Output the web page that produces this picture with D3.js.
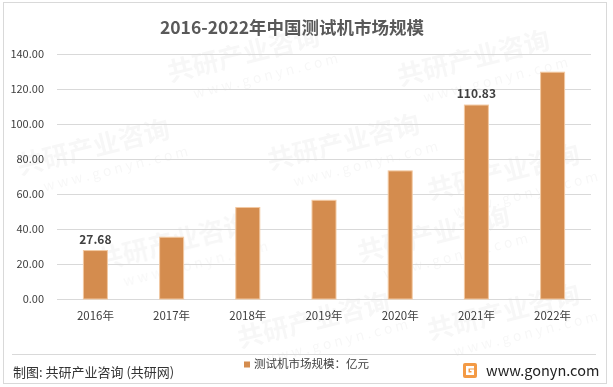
<!DOCTYPE html>
<html>
<head>
<meta charset="utf-8">
<script src="https://cdn.jsdelivr.net/npm/d3@7"></script>
<style>
  body { margin: 0; background: #fff; }
  svg text { font-family: "Noto Sans CJK SC", "Noto Sans", sans-serif; }
</style>
</head>
<body>
<script>
const years = ['2016年', '2017年', '2018年', '2019年', '2020年', '2021年', '2022年']
const values = [27.68, 35.3, 52.3, 56.4, 73.2, 110.83, 129.6]
const labelled = ['2016年', '2021年']
const yTicks = [0, 20, 40, 60, 80, 100, 120, 140]

const W = 613, H = 387
const svg = d3.select('body').append('svg')
    .attr('width', W)
    .attr('height', H)

// outer frame
svg.append('rect')
    .attr('x', 3.5).attr('y', 2.5)
    .attr('width', 603).attr('height', 381)
    .attr('fill', '#fff')
    .attr('stroke', '#d9d9d9')

// faint watermark, kept inside the frame
const wm = svg.append('g').attr('opacity', 0.035)
const spots = [[170, 82], [400, 86], [20, 175], [270, 170], [430, 200], [100, 270], [360, 262], [240, 348], [430, 340]]
spots.forEach(([x, y]) => {
    const g = wm.append('g').attr('transform', `translate(${x},${y}) rotate(-14)`)
    g.append('text').text('共研产业咨询')
        .attr('font-size', 26).attr('font-weight', 'bold').attr('fill', '#000')
    g.append('text').text('w w w . g o n y n . c o m')
        .attr('x', 20).attr('y', 22)
        .attr('font-size', 14).attr('fill', '#000')
})

svg.append('text')
    .attr('x', 292).attr('y', 34)
    .attr('text-anchor', 'middle')
    .attr('font-size', 17.5)
    .attr('font-weight', 'bold')
    .attr('fill', '#595959')
    .text('2016-2022年中国测试机市场规模')

const x = d3.scaleBand().domain(years).range([57.5, 590.5]).paddingInner(0.685).paddingOuter(0.34)
const y = d3.scaleLinear().domain([0, 140]).range([299, 54])

const yAxis = svg.append('g')
    .attr('transform', 'translate(57,0)')
    .call(d3.axisLeft(y).tickValues(yTicks).tickFormat(d3.format('.2f')).tickSize(-534).tickPadding(13))
yAxis.select('.domain').remove()
yAxis.selectAll('line').attr('stroke', '#d9d9d9')
yAxis.selectAll('text').attr('font-size', 11).attr('fill', '#404040').attr('font-family', '"Noto Sans", sans-serif')

svg.selectAll('.bar')
    .data(values)
    .enter()
    .append('rect')
    .attr('class', 'bar')
    .attr('x', (d, i) => x(years[i]))
    .attr('y', d => y(d))
    .attr('width', x.bandwidth())
    .attr('height', d => y(0) - y(d))
    .attr('fill', '#d48c4e')
    .attr('stroke', '#f2c9a2')
    .attr('stroke-width', 1)

svg.selectAll('.val')
    .data(values.filter((d, i) => labelled.includes(years[i])))
    .enter()
    .append('text')
    .attr('x', d => x(years[values.indexOf(d)]) + x.bandwidth() / 2)
    .attr('y', d => y(d) - 7)
    .attr('text-anchor', 'middle')
    .attr('font-size', 12)
    .attr('font-weight', 'bold')
    .attr('fill', '#404040')
    .attr('font-family', '"Noto Sans", sans-serif')
    .text(d => d.toFixed(2))

const xAxis = svg.append('g')
    .attr('transform', 'translate(0,299)')
    .call(d3.axisBottom(x).tickSize(0).tickPadding(13))
xAxis.select('.domain').remove()
xAxis.selectAll('text').attr('font-size', 11.5).attr('fill', '#404040')

// footer
svg.append('line')
    .attr('x1', 12).attr('x2', 596)
    .attr('y1', 354.5).attr('y2', 354.5)
    .attr('stroke', '#d9d9d9')

svg.append('text')
    .attr('x', 13).attr('y', 377)
    .attr('font-size', 13)
    .attr('fill', '#333')
    .text('制图: 共研产业咨询 (共研网)')

svg.append('rect')
    .attr('x', 244).attr('y', 361.5)
    .attr('width', 6).attr('height', 6)
    .attr('fill', '#d48c4e')
svg.append('text')
    .attr('x', 254).attr('y', 368)
    .attr('font-size', 11.5)
    .attr('fill', '#404040')
    .text('测试机市场规模：亿元')

// logo
const logo = svg.append('g').attr('transform', 'translate(463,363)')
logo.append('rect').attr('width', 14).attr('height', 15).attr('rx', 2).attr('fill', '#f39a45')
logo.append('path')
    .attr('d', 'M3,3 H11 V5.5 H5.5 V9.5 H8.5 V8 H7 V6.5 H11 V12 H3 Z')
    .attr('fill', '#fff')
svg.append('text')
    .attr('x', 486).attr('y', 376)
    .attr('font-size', 14.5)
    .attr('fill', '#222')
    .attr('font-family', '"Liberation Sans", Arial, sans-serif')
    .text('www.gonyn.com')
</script>
</body>
</html>
